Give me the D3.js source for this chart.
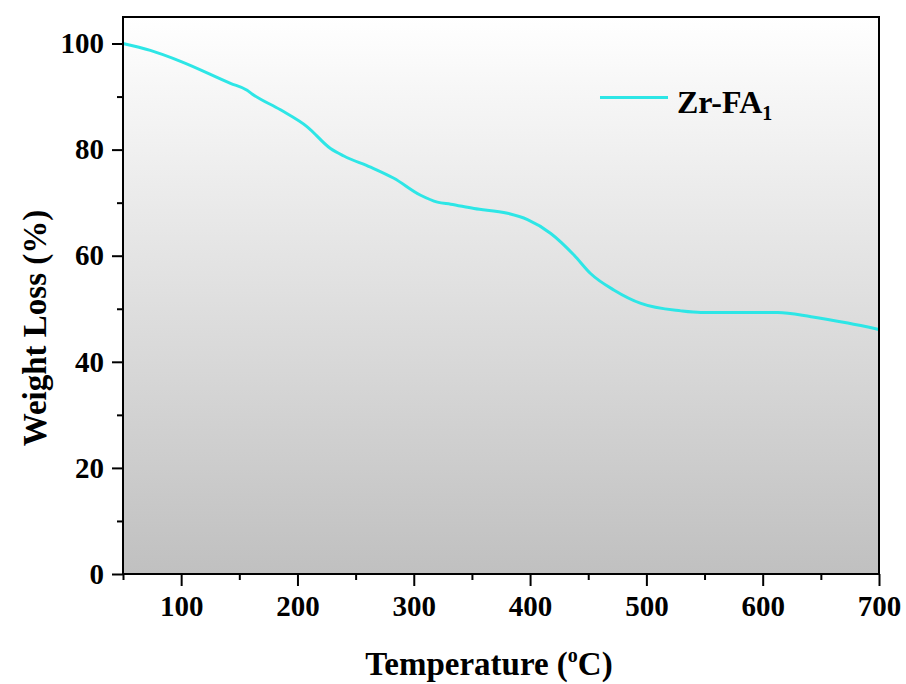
<!DOCTYPE html>
<html><head><meta charset="utf-8">
<script src="https://cdn.jsdelivr.net/npm/d3@7"></script>
<style>body{margin:0;background:#fff}svg{display:block}</style>
</head><body>
<svg id="c" width="906" height="684"></svg>
<script>
const temps = [50, 73.5, 100, 142.4, 156.7, 161, 185.4, 208.4, 228.4, 239.9, 262.9, 282.9, 305.9, 320.3, 331.7, 351.8, 380.6, 397.8, 417.8, 437.9, 452.2, 472.3, 495.3, 529.7, 546.9, 580, 613, 641.6, 673.2, 700];
const weights = [100, 98.7, 96.6, 92.5, 91.2, 90.5, 87.5, 84.3, 80.2, 78.8, 76.7, 74.6, 71.4, 70.1, 69.7, 68.9, 68.0, 66.8, 64.2, 60.1, 56.6, 53.5, 51.0, 49.6, 49.3, 49.3, 49.3, 48.5, 47.3, 46.1];
const xTicks = [100, 200, 300, 400, 500, 600, 700];
const yTicks = [0, 20, 40, 60, 80, 100];
const seriesName = "Zr-FA";

const svg = d3.select("#c");
const L = 123, R = 879, T = 17, B = 574;
const x = d3.scaleLinear().domain([50, 700]).range([L, R]);
const y = d3.scaleLinear().domain([0, 105]).range([B, T]);

const defs = svg.append("defs");
const g = defs.append("linearGradient").attr("id", "bg").attr("x1", 0).attr("y1", 0).attr("x2", 0).attr("y2", 1);
g.append("stop").attr("offset", "0%").attr("stop-color", "#ffffff");
g.append("stop").attr("offset", "100%").attr("stop-color", "#c0c0c0");
svg.append("rect").attr("x", L).attr("y", T).attr("width", R - L).attr("height", B - T).attr("fill", "url(#bg)");

const font = "'Liberation Serif','Times New Roman',serif";

// line
const data = temps.map((t, i) => [t, weights[i]]);
svg.append("path").datum(data)
  .attr("fill", "none").attr("stroke", "#2de6e6").attr("stroke-width", 3)
  .attr("d", d3.line().x(d => x(d[0])).y(d => y(d[1])).curve(d3.curveMonotoneX));

// frame
svg.append("rect").attr("x", L).attr("y", T).attr("width", R - L).attr("height", B - T)
  .attr("fill", "none").attr("stroke", "#000").attr("stroke-width", 2);

// x axis
const xa = svg.append("g").attr("transform", `translate(0,${B})`)
  .call(d3.axisBottom(x).tickValues(xTicks).tickSize(12).tickPadding(9).tickFormat(d3.format("d")));
const xm = svg.append("g").attr("transform", `translate(0,${B})`)
  .call(d3.axisBottom(x).tickValues(d3.range(50, 701, 100)).tickSize(6).tickFormat(""));
// y axis
const ya = svg.append("g").attr("transform", `translate(${L},0)`)
  .call(d3.axisLeft(y).tickValues(yTicks).tickSize(11).tickPadding(8).tickFormat(d3.format("d")));
const ym = svg.append("g").attr("transform", `translate(${L},0)`)
  .call(d3.axisLeft(y).tickValues(d3.range(10, 101, 20)).tickSize(6).tickFormat(""));
[xa, xm, ya, ym].forEach(a => {
  a.select(".domain").remove();
  a.selectAll("line").attr("stroke", "#000").attr("stroke-width", 2);
  a.selectAll("text").attr("font-family", font).attr("font-weight", "bold").attr("font-size", 29).attr("fill", "#000");
});
xa.selectAll("text").attr("dy", "0.71em");

// axis titles
const xt = svg.append("text").attr("x", 489).attr("y", 675).attr("text-anchor", "middle")
  .attr("font-family", font).attr("font-weight", "bold").attr("font-size", 33);
xt.append("tspan").text("Temperature (");
xt.append("tspan").attr("font-size", 20).attr("dy", -13).text("o");
xt.append("tspan").attr("dy", 13).text("C)");

svg.append("text").attr("transform", "translate(46,328) rotate(-90)").attr("text-anchor", "middle")
  .attr("font-family", font).attr("font-weight", "bold").attr("font-size", 33).text("Weight Loss (%)");

// legend
svg.append("line").attr("x1", 600).attr("x2", 668).attr("y1", 97.5).attr("y2", 97.5)
  .attr("stroke", "#2de6e6").attr("stroke-width", 3);
const lt = svg.append("text").attr("x", 677).attr("y", 113)
  .attr("font-family", font).attr("font-weight", "bold").attr("font-size", 32);
lt.append("tspan").text(seriesName);
lt.append("tspan").attr("font-size", 20).attr("dy", 7).text("1");
</script>
</body></html>
